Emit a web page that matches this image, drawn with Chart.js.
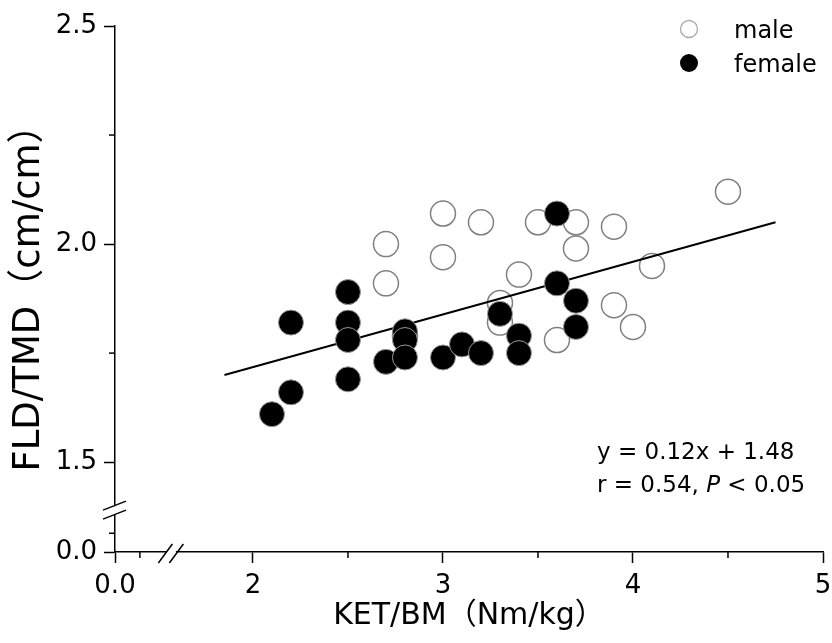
<!DOCTYPE html>
<html lang="en">
<head>
    <meta charset="UTF-8">
    <title>FLD/TMD vs KET/BM</title>
    <script src="https://cdn.jsdelivr.net/npm/chart.js"></script>
    <style>
        body {
            margin: 0;
            background: #fff;
        }
        #wrap {
            width: 832px;
            height: 643px;
        }
    </style>
</head>
<body>
    <div id="wrap">
        <canvas id="scatter" width="832" height="643"></canvas>
    </div>

    <script>
        // values
        const maleKet = [2.7, 2.7, 3.0, 3.0, 3.2, 3.5, 3.7, 3.7, 3.9, 3.4, 3.3, 3.3, 3.6, 3.9, 4.0, 4.1, 4.5, 2.8];
        const maleFld = [2.00, 1.91, 2.07, 1.97, 2.05, 2.05, 2.05, 1.99, 2.04, 1.93, 1.865, 1.82, 1.78, 1.86, 1.81, 1.95, 2.12, 1.79];

        const femaleKet = [2.1, 2.2, 2.2, 2.5, 2.5, 2.5, 2.5, 2.7, 2.8, 2.8, 2.8, 3.0, 3.1, 3.2, 3.3, 3.4, 3.4, 3.6, 3.6, 3.7, 3.7];
        const femaleFld = [1.61, 1.66, 1.82, 1.89, 1.82, 1.78, 1.69, 1.73, 1.80, 1.78, 1.74, 1.74, 1.77, 1.75, 1.84, 1.79, 1.75, 2.07, 1.91, 1.87, 1.81];

        // fitted line y = 0.12x + 1.48, end points as drawn
        const fitKet = [1.85, 4.75];
        const fitFld = [1.70, 2.05];

        // axis ticks (the lowest tick sits below the axis break and reads 0.0)
        const xTickValues = [1.274, 2, 3, 4, 5];
        const xTickLabels = ['0.0', '2', '3', '4', '5'];
        const xMinorTicks = [1.405, 2.5, 3.5, 4.5];
        const yTickValues = [1.294, 1.5, 2.0, 2.5];
        const yTickLabels = ['0.0', '1.5', '2.0', '2.5'];
        const yMinorTicks = [1.337, 1.75, 2.25];
        const xBreak = 1.568;
        const yBreak = 1.39;

        const toPoints = (xs, ys) => xs.map((v, i) => ({ x: v, y: ys[i] }));

        Chart.defaults.font.family = "'DejaVu Sans', 'Noto Sans CJK SC', sans-serif";
        Chart.defaults.color = '#000';

        const line = (ctx, x1, y1, x2, y2) => {
            ctx.beginPath();
            ctx.moveTo(x1, y1);
            ctx.lineTo(x2, y2);
            ctx.stroke();
        };

        const extras = {
            id: 'extras',
            afterDraw(chart) {
                const { ctx, chartArea: a, scales: { x, y } } = chart;
                ctx.save();
                ctx.strokeStyle = '#000';
                ctx.lineWidth = 1.5;

                // short minor ticks
                xMinorTicks.forEach(v => {
                    const px = x.getPixelForValue(v);
                    line(ctx, px, a.bottom, px, a.bottom + 6);
                });
                yMinorTicks.forEach(v => {
                    const py = y.getPixelForValue(v);
                    line(ctx, a.left - 6, py, a.left, py);
                });

                // y axis break
                const yb = y.getPixelForValue(yBreak);
                ctx.fillStyle = '#fff';
                ctx.fillRect(a.left - 3, yb - 4, 6, 8);
                line(ctx, a.left - 12, yb, a.left + 11, yb - 9);
                line(ctx, a.left - 12, yb + 9, a.left + 11, yb);

                // x axis break
                const xb = x.getPixelForValue(xBreak);
                ctx.fillRect(xb - 4, a.bottom - 3, 9, 6);
                line(ctx, xb - 12.5, a.bottom + 11, xb + 1.5, a.bottom - 8);
                line(ctx, xb - 1.5, a.bottom + 11, xb + 12.5, a.bottom - 8);

                // legend
                const lx = a.right - 134;
                ctx.lineWidth = 1.3;
                ctx.strokeStyle = '#aaa';
                ctx.beginPath();
                ctx.arc(lx, a.top + 3, 8.5, 0, Math.PI * 2);
                ctx.stroke();
                ctx.fillStyle = '#000';
                ctx.beginPath();
                ctx.arc(lx, a.top + 37, 9, 0, Math.PI * 2);
                ctx.fill();
                ctx.font = "24px 'DejaVu Sans'";
                ctx.textBaseline = 'alphabetic';
                ctx.fillText('male', lx + 45, a.top + 12);
                ctx.fillText('female', lx + 45, a.top + 46);

                // regression note
                ctx.font = "23px 'DejaVu Sans'";
                const tx = a.right - 226;
                ctx.fillText('y = 0.12x + 1.48', tx, a.top + 433);
                let cx = tx;
                const part1 = 'r = 0.54, ';
                ctx.fillText(part1, cx, a.top + 466);
                cx += ctx.measureText(part1).width;
                ctx.font = "italic 23px 'DejaVu Sans'";
                ctx.fillText('P', cx, a.top + 466);
                cx += ctx.measureText('P').width;
                ctx.font = "23px 'DejaVu Sans'";
                ctx.fillText(' < 0.05', cx, a.top + 466);

                ctx.restore();
            }
        };

        const ctx = document.getElementById('scatter').getContext('2d');
        new Chart(ctx, {
            type: 'scatter',
            data: {
                datasets: [
                    {
                        label: 'female',
                        data: toPoints(femaleKet, femaleFld),
                        backgroundColor: '#000',
                        borderColor: '#9a9a9a',
                        borderWidth: 1,
                        pointRadius: 12.5,
                        pointHoverRadius: 12.5,
                        order: 1
                    },
                    {
                        type: 'line',
                        label: 'fit',
                        data: toPoints(fitKet, fitFld),
                        borderColor: '#000',
                        borderWidth: 2,
                        pointRadius: 0,
                        fill: false,
                        order: 2
                    },
                    {
                        label: 'male',
                        data: toPoints(maleKet, maleFld),
                        backgroundColor: 'rgba(0,0,0,0)',
                        borderColor: '#808080',
                        borderWidth: 1.5,
                        pointRadius: 12.5,
                        pointHoverRadius: 12.5,
                        order: 3
                    }
                ]
            },
            options: {
                responsive: false,
                animation: false,
                layout: { autoPadding: false, padding: { top: 26, right: 9, left: 0, bottom: 0 } },
                plugins: {
                    legend: { display: false },
                    tooltip: { enabled: false }
                },
                scales: {
                    x: {
                        type: 'linear',
                        min: xTickValues[0],
                        max: 5,
                        afterFit: s => {
                            s.height = 91;
                            s.paddingRight = 0;
                        },
                        afterBuildTicks: s => { s.ticks = xTickValues.map(v => ({ value: v })); },
                        ticks: {
                            autoSkip: false,
                            maxRotation: 0,
                            padding: 8,
                            font: { size: 26 },
                            callback: (v, i) => xTickLabels[i]
                        },
                        grid: { drawOnChartArea: false, tickLength: 11, tickWidth: 1.5, tickColor: '#000' },
                        border: { color: '#000', width: 1.5 },
                        title: {
                            display: true,
                            text: 'KET/BM（Nm/kg）',
                            font: { size: 30 },
                            padding: { top: 0, bottom: 9 }
                        }
                    },
                    y: {
                        type: 'linear',
                        min: yTickValues[0],
                        max: 2.5,
                        afterFit: s => { s.width = 115; },
                        afterBuildTicks: s => { s.ticks = yTickValues.map(v => ({ value: v })); },
                        ticks: {
                            autoSkip: false,
                            padding: 7,
                            font: { size: 26 },
                            callback: (v, i) => yTickLabels[i]
                        },
                        grid: { drawOnChartArea: false, tickLength: 11, tickWidth: 1.5, tickColor: '#000' },
                        border: { color: '#000', width: 1.5 },
                        title: {
                            display: true,
                            text: 'FLD/TMD（cm/cm）',
                            font: { size: 37 },
                            padding: { top: 7, bottom: 0 }
                        }
                    }
                }
            },
            plugins: [extras]
        });
    </script>
</body>
</html>
